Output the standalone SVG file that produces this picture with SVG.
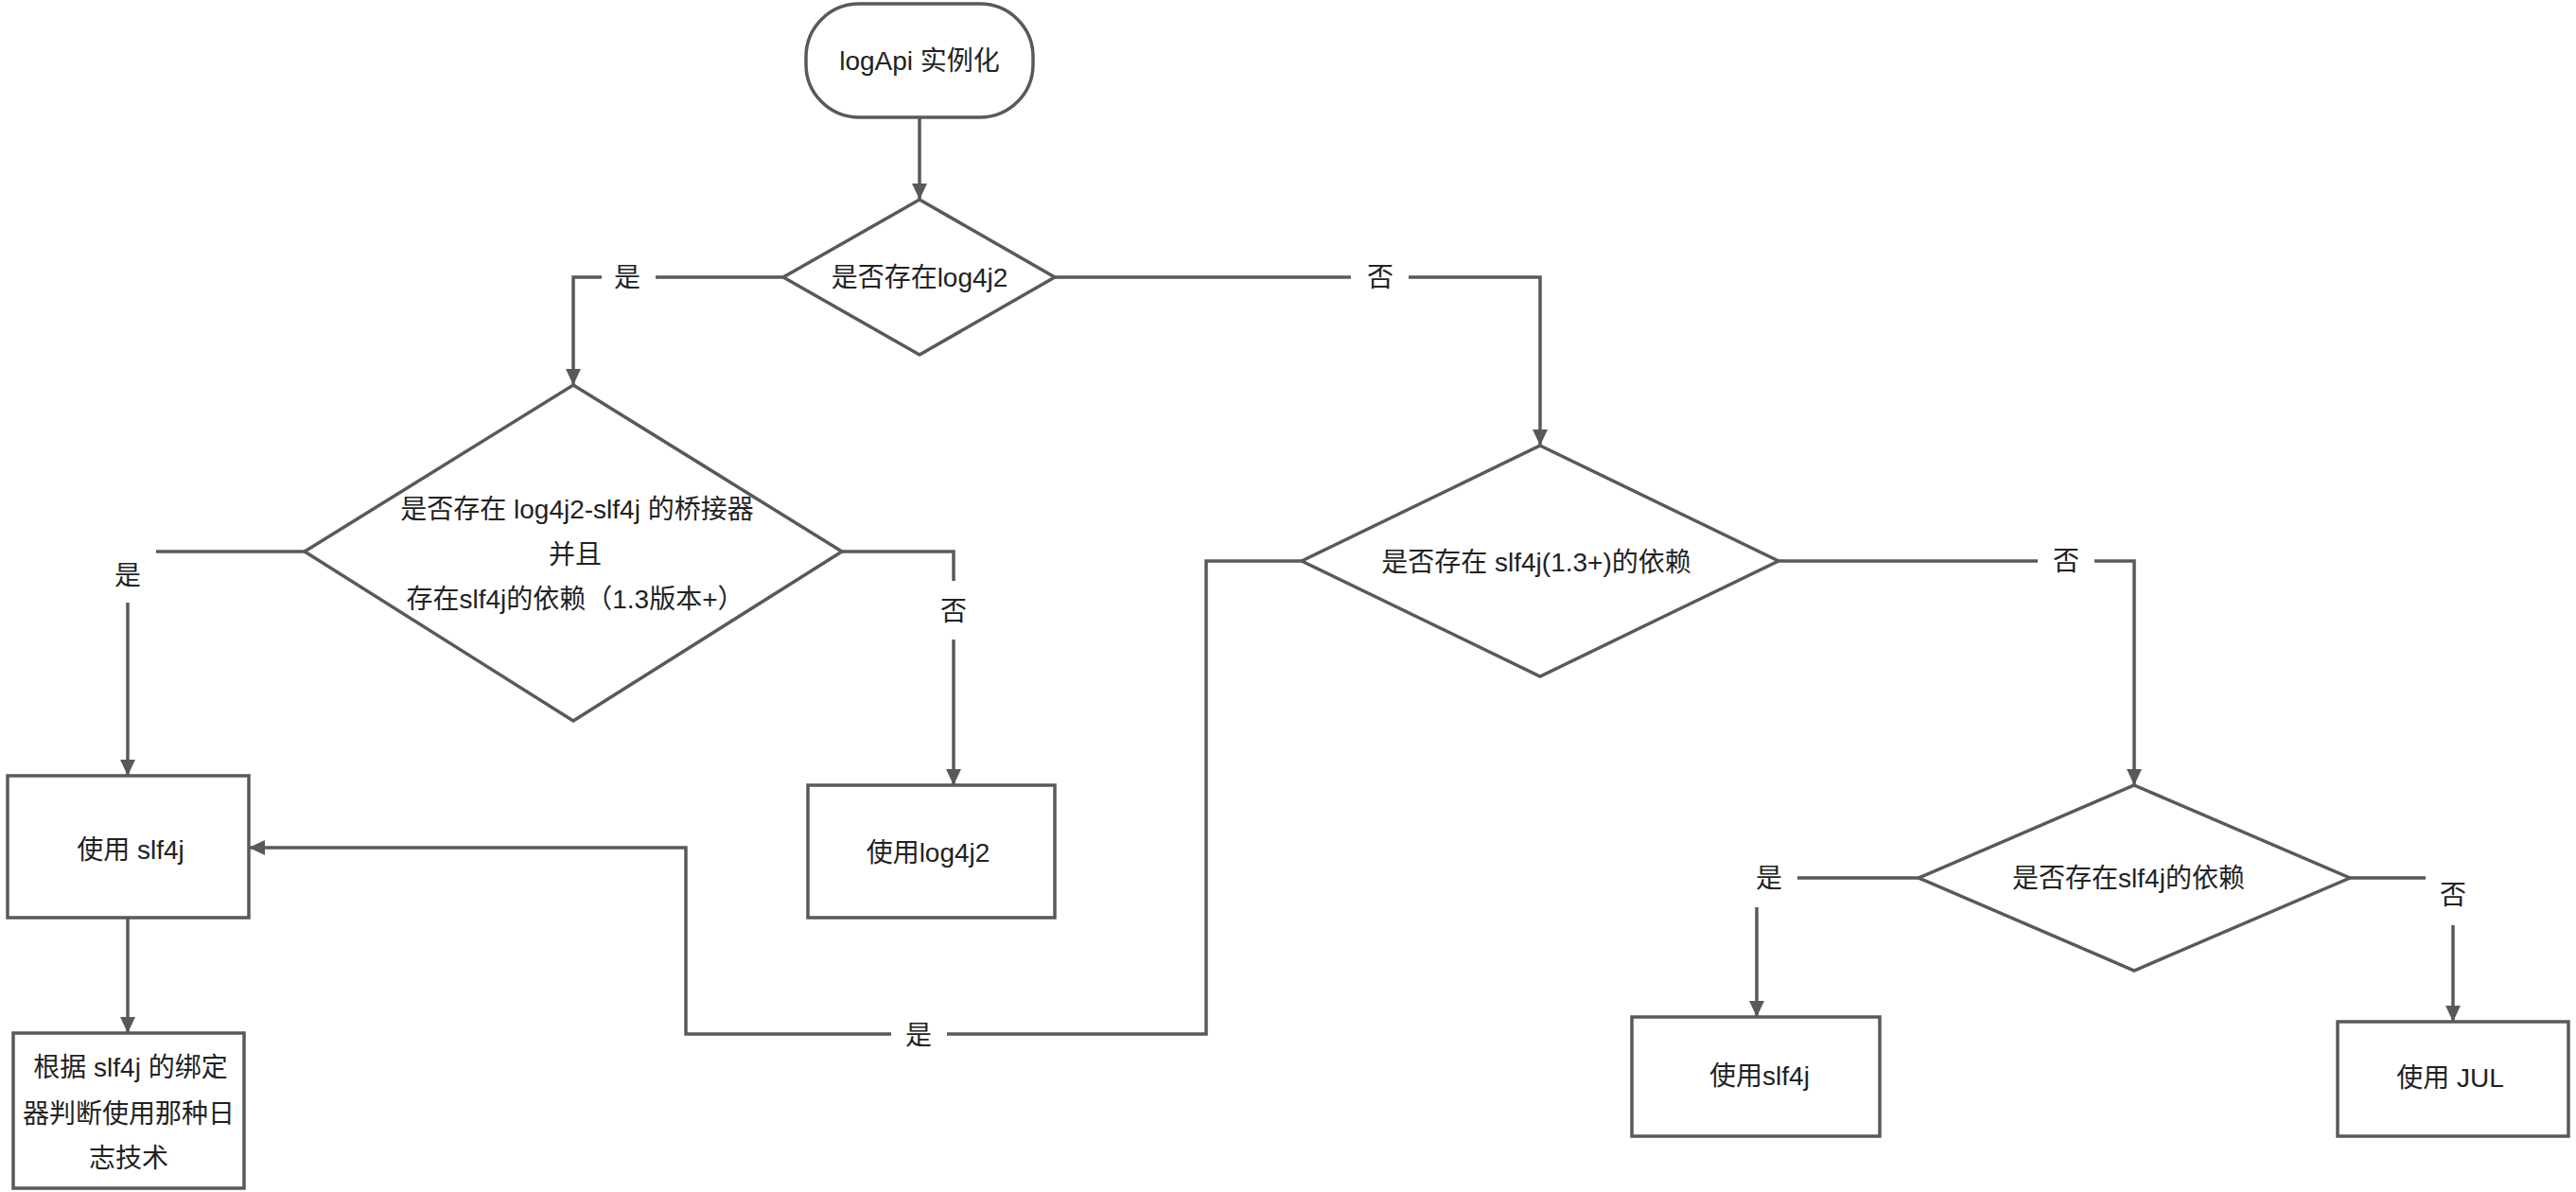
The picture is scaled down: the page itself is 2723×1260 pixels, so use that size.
<svg xmlns="http://www.w3.org/2000/svg" width="2723" height="1260" viewBox="0 0 2723 1260">
<style>
.shape{fill:#fff;stroke:#595959;stroke-width:3.5}
.conn{fill:none;stroke:#595959;stroke-width:3.5}
.t{font-family:"Liberation Sans","Noto Sans CJK SC",sans-serif;font-size:28px;fill:#222;text-anchor:middle;dominant-baseline:central}
.bg{fill:#fff;stroke:none}
</style>
<defs>
<marker id="arr" markerUnits="userSpaceOnUse" markerWidth="18" markerHeight="16" refX="17" refY="8" orient="auto">
<path d="M0,0 L17,8 L0,16 z" fill="#595959"/>
</marker>
</defs>
<rect width="2723" height="1260" fill="#fff"/>
<g id="connectors">
<path class="conn" d="M972,124 V211" marker-end="url(#arr)"/>
<path class="conn" d="M828,293 H606 V407" marker-end="url(#arr)"/>
<path class="conn" d="M1115,293 H1628 V471" marker-end="url(#arr)"/>
<path class="conn" d="M322,583 H135 V820" marker-end="url(#arr)"/>
<path class="conn" d="M890,583 H1008 V830" marker-end="url(#arr)"/>
<path class="conn" d="M1376,593 H1275 V1093 H725 V896 H263" marker-end="url(#arr)"/>
<path class="conn" d="M1880,593 H2256 V830" marker-end="url(#arr)"/>
<path class="conn" d="M2028,928 H1857 V1075" marker-end="url(#arr)"/>
<path class="conn" d="M2484,928 H2593 V1080" marker-end="url(#arr)"/>
<path class="conn" d="M135,970 V1092" marker-end="url(#arr)"/>
<rect class="bg" x="636" y="276" width="57" height="34"/>
<text class="t" x="663" y="293">是</text>
<rect class="bg" x="1428" y="276" width="61" height="34"/>
<text class="t" x="1459" y="293">否</text>
<rect class="bg" x="105" y="579" width="60" height="58"/>
<text class="t" x="135" y="608">是</text>
<rect class="bg" x="978" y="614" width="60" height="62"/>
<text class="t" x="1008" y="646">否</text>
<rect class="bg" x="2154" y="576" width="60" height="34"/>
<text class="t" x="2184" y="593">否</text>
<rect class="bg" x="942" y="1076" width="59" height="34"/>
<text class="t" x="971" y="1094">是</text>
<rect class="bg" x="1840" y="899" width="60" height="60"/>
<text class="t" x="1870" y="928">是</text>
<rect class="bg" x="2564" y="914" width="58" height="64"/>
<text class="t" x="2593" y="946">否</text>
</g>
<g id="start">
<rect class="shape" x="852" y="4" width="240" height="120" rx="56" ry="56"/>
<text class="t" x="972" y="64">logApi 实例化</text>
</g>
<g id="d1">
<polygon class="shape" points="972,211 1115,293 972,375 828,293"/>
<text class="t" x="972" y="293">是否存在log4j2</text>
</g>
<g id="d2">
<polygon class="shape" points="606,407 890,583 606,762 322,583"/>
<text class="t" x="610" y="538">是否存在 log4j2-slf4j 的桥接器</text>
<text class="t" x="608" y="586">并且</text>
<text class="t" x="608" y="633">存在slf4j的依赖（1.3版本+）</text>
</g>
<g id="d3">
<polygon class="shape" points="1628,471 1880,593 1628,715 1376,593"/>
<text class="t" x="1624" y="594">是否存在 slf4j(1.3+)的依赖</text>
</g>
<g id="d4">
<polygon class="shape" points="2256,830 2484,928 2256,1026 2028,928"/>
<text class="t" x="2250" y="928">是否存在slf4j的依赖</text>
</g>
<g id="r-slf4j">
<rect class="shape" x="8" y="820" width="255" height="150"/>
<text class="t" x="138" y="898">使用 slf4j</text>
</g>
<g id="r-binding">
<rect class="shape" x="14" y="1092" width="244" height="164"/>
<text class="t" x="138" y="1128">根据 slf4j 的绑定</text>
<text class="t" x="136" y="1177">器判断使用那种日</text>
<text class="t" x="136" y="1224">志技术</text>
</g>
<g id="r-log4j2">
<rect class="shape" x="854" y="830" width="261" height="140"/>
<text class="t" x="981" y="901">使用log4j2</text>
</g>
<g id="r-slf4j2">
<rect class="shape" x="1725" y="1075" width="262" height="126"/>
<text class="t" x="1860" y="1137">使用slf4j</text>
</g>
<g id="r-jul">
<rect class="shape" x="2471" y="1080" width="244" height="121"/>
<text class="t" x="2590" y="1139">使用 JUL</text>
</g>
</svg>
